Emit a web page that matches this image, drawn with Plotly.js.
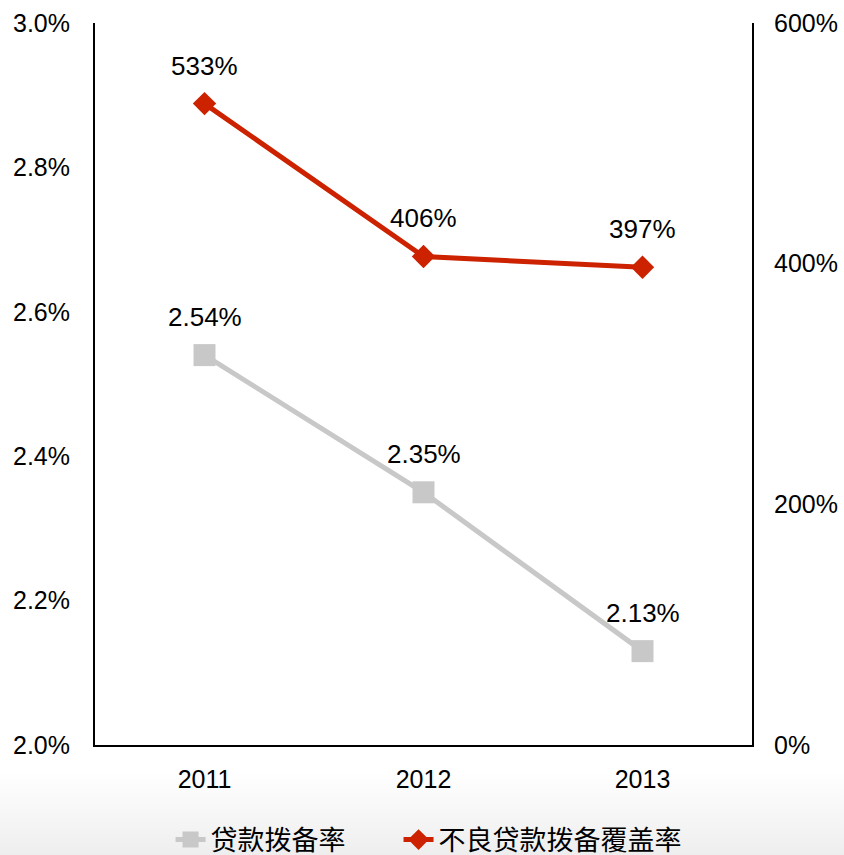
<!DOCTYPE html>
<html><head><meta charset="utf-8">
<script src="https://cdn.plot.ly/plotly-3.0.1.min.js"></script>
<style>
html,body{margin:0;padding:0;}
body{width:844px;height:855px;background:linear-gradient(to bottom,#ffffff 0px,#ffffff 772px,#eeeeee 855px);}
#chart{width:844px;height:855px;}
</style></head>
<body><div id="chart"></div>
<script>
const years = ['2011','2012','2013'];
const provisionRatio = [2.54, 2.35, 2.13];          // 贷款拨备率 (%)
const coverageRatio = [533, 406, 397];              // 不良贷款拨备覆盖率 (%)
const provisionLabels = ['2.54%','2.35%','2.13%'];
const coverageLabels = ['533%','406%','397%'];
const leftTicks = [2.0,2.2,2.4,2.6,2.8,3.0];
const leftTickText = ['2.0%','2.2%','2.4%','2.6%','2.8%','3.0%'];
const rightTicks = [0,200,400,600];
const rightTickText = ['0%','200%','400%','600%'];

const FONT = 'Liberation Sans, Arial, Noto Sans CJK SC, sans-serif';
const FS = 25;

const traces = [
  {x: years, y: provisionRatio, name: '贷款拨备率', type: 'scatter', mode: 'lines+markers', legend: 'legend',
   line: {color: '#c8c8c8', width: 5}, marker: {symbol: 'square', size: 22, color: '#c8c8c8'}, yaxis: 'y'},
  {x: years, y: coverageRatio, name: '不良贷款拨备覆盖率', type: 'scatter', mode: 'lines+markers', legend: 'legend2',
   line: {color: '#cc2200', width: 5}, marker: {symbol: 'diamond', size: 18, color: '#cc2200'}, yaxis: 'y2'}
];

const annotations = [];
years.forEach((yr, i) => {
  annotations.push({x: i, y: provisionRatio[i], xref: 'x', yref: 'y', text: provisionLabels[i],
    showarrow: false, yshift: 38, font: {size: 26, color: '#000', family: FONT}});
  annotations.push({x: i, y: coverageRatio[i], xref: 'x', yref: 'y2', text: coverageLabels[i],
    showarrow: false, yshift: 38, font: {size: 26, color: '#000', family: FONT}});
});

const legendBase = {orientation: 'h', xanchor: 'left', y: -0.1316, yanchor: 'middle',
  font: {size: 27, family: FONT}, bgcolor: 'rgba(0,0,0,0)'};

const layout = {
  width: 844, height: 855,
  margin: {l: 95, r: 92, t: 23, b: 110, autoexpand: false},
  paper_bgcolor: 'rgba(0,0,0,0)', plot_bgcolor: 'rgba(0,0,0,0)',
  font: {family: FONT, size: FS, color: '#000'},
  showlegend: true,
  legend: Object.assign({}, legendBase, {x: 0.115}),
  legend2: Object.assign({}, legendBase, {x: 0.462}),
  xaxis: {type: 'category', range: [-0.5, 2.5], showline: true, linecolor: '#000', linewidth: 2,
    showgrid: false, zeroline: false, ticks: '', tickfont: {size: FS}, ticklabelstandoff: 11},
  yaxis: {range: [2.0, 3.0], tickvals: leftTicks, ticktext: leftTickText, showline: true,
    linecolor: '#000', linewidth: 2, showgrid: false, zeroline: false, ticks: '', ticklabelstandoff: 18,
    tickfont: {size: FS}},
  yaxis2: {range: [0, 600], tickvals: rightTicks, ticktext: rightTickText, overlaying: 'y', side: 'right',
    showline: true, linecolor: '#000', linewidth: 2, showgrid: false, zeroline: false, ticks: '',
    ticklabelstandoff: 15, tickfont: {size: FS}},
  annotations: annotations
};

Plotly.newPlot('chart', traces, layout, {displayModeBar: false, staticPlot: true});
</script></body></html>
